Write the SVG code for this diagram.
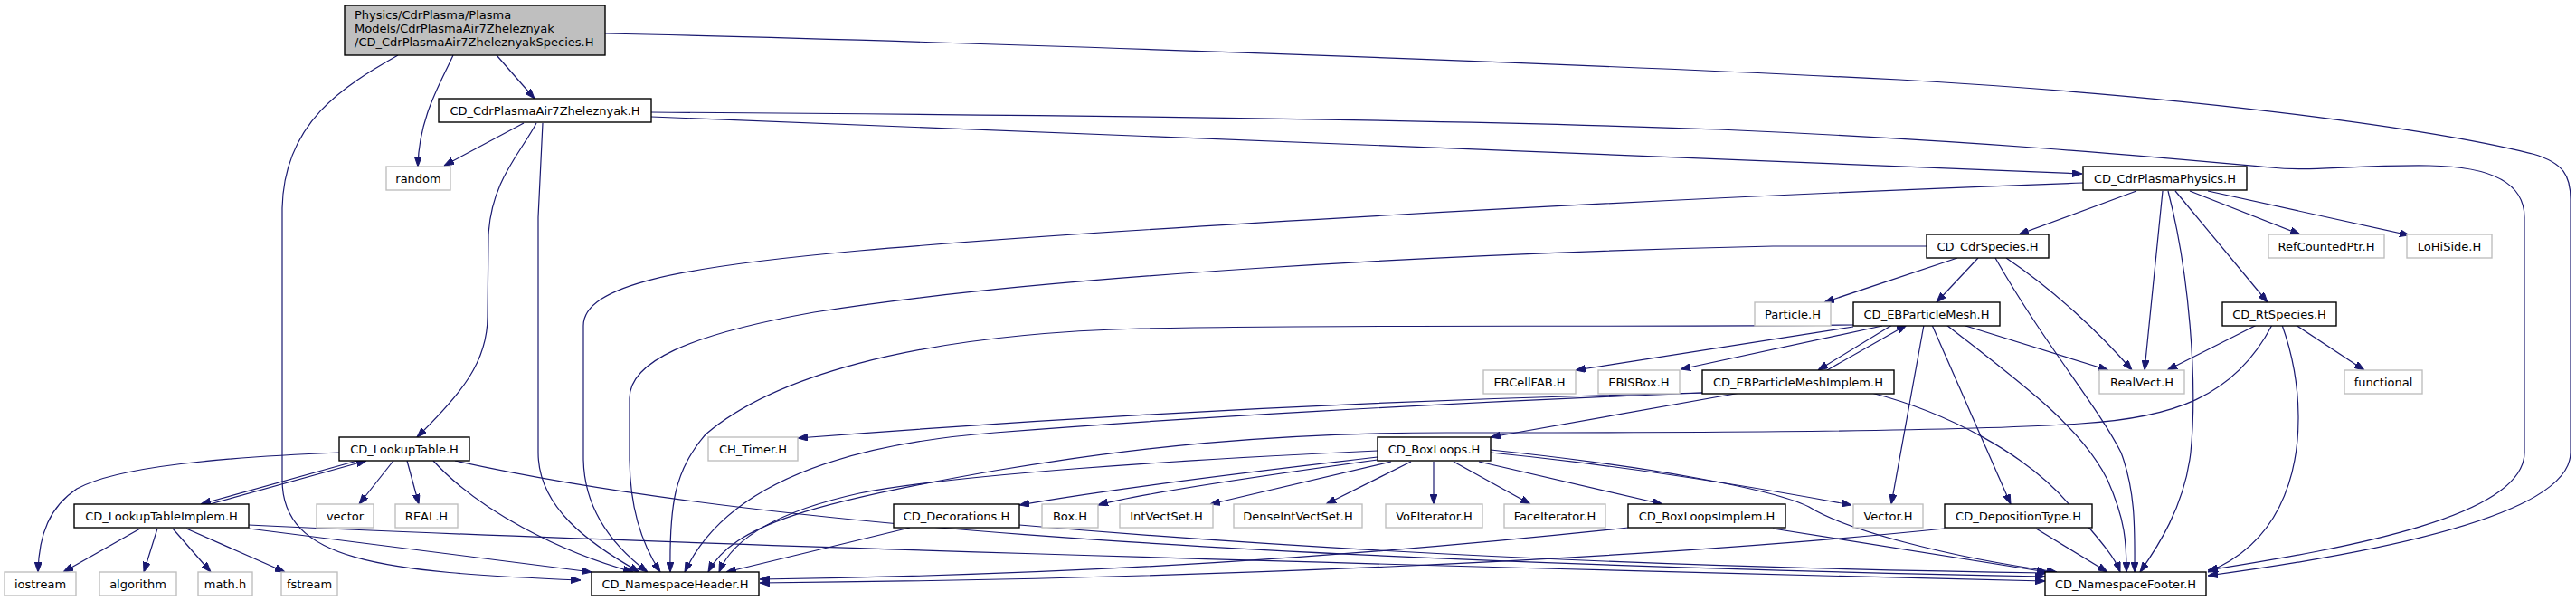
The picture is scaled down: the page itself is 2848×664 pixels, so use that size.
<svg xmlns="http://www.w3.org/2000/svg" width="2848" height="664" viewBox="0 0 2848 664">
<style>
.n rect{fill:#fff;stroke:#000;stroke-width:1.4}
.x rect{fill:#fff;stroke:#bfbfbf;stroke-width:1.4}
.m rect{fill:#bfbfbf;stroke:#000;stroke-width:1.4}
text{font-family:"DejaVu Sans",Verdana,sans-serif;font-size:13px;fill:#000;text-anchor:middle}
.m text{text-anchor:start}
#edges path{fill:none;stroke:#191970;stroke-width:1.2;marker-end:url(#ah)}
</style>
<defs>
<marker id="ah" viewBox="0 0 11 8" refX="11" refY="4" markerWidth="11" markerHeight="8" markerUnits="userSpaceOnUse" orient="auto"><path d="M0,0 L11,4 L0,8 z" fill="#191970" stroke="#191970" stroke-width="1"/></marker>
</defs>
<rect width="2848" height="664" fill="#fff"/>
<g id="edges">
<path d="M549,61 L591,109"/>
<path d="M501,61 C487,92 463,130 462,184"/>
<path d="M440,61 C380,95 314,135 312,230 L312,530 C312,620 420,632 642,641"/>
<path d="M669,37 C1000,44 1700,68 2100,88 C2450,108 2700,145 2800,170 C2835,180 2842,195 2842,220 L2842,500 C2842,570 2620,612 2441,636"/>
<path d="M579,136 L491,183"/>
<path d="M593,136 C575,170 543,200 540,260 L539,350 C539,400 510,435 461,483"/>
<path d="M600,136 L595,240 L595,500 C595,560 650,600 707,632"/>
<path d="M720,129 C1000,139 1900,176 2302,192"/>
<path d="M720,124 C1200,127 1600,132 1900,143 C2200,156 2400,175 2510,185 C2560,190 2600,182 2686,183 C2760,184 2791,205 2791,240 L2791,500 C2791,570 2600,605 2441,630"/>
<path d="M375,500 C250,505 130,515 85,540 C55,560 43,590 42,632"/>
<path d="M395,509 L222,557"/>
<path d="M232,557 L405,509"/>
<path d="M435,509 L397,557"/>
<path d="M450,509 L463,557"/>
<path d="M479,509 C530,565 620,610 700,632"/>
<path d="M503,509 C800,575 1300,618 2261,637"/>
<path d="M155,584 L70,632"/>
<path d="M174,584 L159,632"/>
<path d="M191,584 L233,632"/>
<path d="M206,584 L315,632"/>
<path d="M275,584 L654,632"/>
<path d="M275,580 C700,600 1500,624 2261,642"/>
<path d="M2362,211 L2232,259"/>
<path d="M2391,211 L2371,409"/>
<path d="M2397,211 C2420,300 2430,420 2422,500 C2415,560 2385,605 2366,632"/>
<path d="M2405,211 L2507,334"/>
<path d="M2421,211 L2543,259"/>
<path d="M2441,211 L2664,260"/>
<path d="M2303,202 C1800,220 1200,255 950,277 C750,295 645,315 645,360 L645,505 C645,565 680,605 716,632"/>
<path d="M2164,285 L2017,334"/>
<path d="M2187,285 L2141,334"/>
<path d="M2206,285 C2260,380 2320,450 2345,500 C2362,545 2360,590 2360,632"/>
<path d="M2218,285 C2270,320 2322,368 2357,409"/>
<path d="M2130,272 L1960,272 C1600,280 1150,305 900,345 C760,370 696,400 696,440 L696,505 C696,565 712,605 730,632"/>
<path d="M2049,361 L1742,409"/>
<path d="M2081,360 L1858,408"/>
<path d="M2050,359 C1800,362 1500,358 1260,363 C1000,370 850,420 780,480 C745,520 740,560 741,632"/>
<path d="M2092,359 L2010,409"/>
<path d="M2020,409 L2108,359"/>
<path d="M2170,359 L2331,409"/>
<path d="M2127,359 L2091,557"/>
<path d="M2136,359 L2223,557"/>
<path d="M2152,359 C2230,420 2300,470 2330,530 C2350,575 2351,600 2351,632"/>
<path d="M1882,434 C1600,440 1260,455 882,484"/>
<path d="M1882,434 C1600,445 1300,462 1100,478 C920,492 800,540 757,632"/>
<path d="M1924,434 L1648,483"/>
<path d="M2069,434 C2150,455 2240,500 2290,560 C2320,595 2338,615 2344,632"/>
<path d="M1523,505 C1350,525 1200,545 1127,558"/>
<path d="M1523,508 C1400,525 1260,545 1214,558"/>
<path d="M1538,510 L1338,557"/>
<path d="M1560,510 L1466,557"/>
<path d="M1585,510 L1585,557"/>
<path d="M1607,510 L1692,557"/>
<path d="M1635,510 L1838,557"/>
<path d="M1648,500 C1800,515 1950,540 2047,558"/>
<path d="M1648,497 C1820,515 1960,540 2000,560 C2040,585 2150,615 2274,632"/>
<path d="M1523,498 C1300,508 1050,525 950,545 C860,565 810,595 795,632"/>
<path d="M2495,359 L2396,409"/>
<path d="M2538,359 L2614,409"/>
<path d="M2523,359 C2545,420 2550,500 2520,560 C2500,600 2470,620 2441,632"/>
<path d="M2512,359 C2470,440 2400,462 2300,468 C2150,478 1800,478 1600,478 C1400,478 1250,495 1100,520 C900,555 810,580 783,632"/>
<path d="M1006,583 L803,632"/>
<path d="M1127,580 C1500,612 1900,628 2263,633"/>
<path d="M1800,583 C1500,615 1200,635 840,640"/>
<path d="M1960,584 L2263,632"/>
<path d="M2251,584 L2330,632"/>
<path d="M2150,584 C1800,620 1300,640 840,644"/>
</g>
<g id="n_main" class="m"><rect x="381" y="6" width="288" height="55"/><text x="392" y="21">Physics/CdrPlasma/Plasma</text><text x="392" y="36">Models/CdrPlasmaAir7Zheleznyak</text><text x="392" y="51">/CD_CdrPlasmaAir7ZheleznyakSpecies.H</text></g>
<g id="n_air7" class="n"><rect x="485" y="109" width="235" height="26"/><text x="602.5" y="126.5">CD_CdrPlasmaAir7Zheleznyak.H</text></g>
<g id="n_random" class="x"><rect x="427" y="184" width="71" height="26"/><text x="462.5" y="201.5">random</text></g>
<g id="n_pp" class="n"><rect x="2303" y="184" width="181" height="26"/><text x="2393.5" y="201.5">CD_CdrPlasmaPhysics.H</text></g>
<g id="n_cs" class="n"><rect x="2130" y="259" width="135" height="26"/><text x="2197.5" y="276.5">CD_CdrSpecies.H</text></g>
<g id="n_rcp" class="x"><rect x="2508" y="259" width="128" height="26"/><text x="2572" y="276.5">RefCountedPtr.H</text></g>
<g id="n_lohi" class="x"><rect x="2661" y="259" width="94" height="26"/><text x="2708" y="276.5">LoHiSide.H</text></g>
<g id="n_particle" class="x"><rect x="1940" y="334" width="84" height="26"/><text x="1982" y="351.5">Particle.H</text></g>
<g id="n_epm" class="n"><rect x="2049" y="334" width="162" height="26"/><text x="2130" y="351.5">CD_EBParticleMesh.H</text></g>
<g id="n_rt" class="n"><rect x="2457" y="334" width="126" height="26"/><text x="2520" y="351.5">CD_RtSpecies.H</text></g>
<g id="n_ebcellfab" class="x"><rect x="1640" y="409" width="102" height="26"/><text x="1691" y="426.5">EBCellFAB.H</text></g>
<g id="n_ebisbox" class="x"><rect x="1767" y="409" width="90" height="26"/><text x="1812" y="426.5">EBISBox.H</text></g>
<g id="n_epmi" class="n"><rect x="1882" y="409" width="212" height="26"/><text x="1988" y="426.5">CD_EBParticleMeshImplem.H</text></g>
<g id="n_realvect" class="x"><rect x="2321" y="409" width="94" height="26"/><text x="2368" y="426.5">RealVect.H</text></g>
<g id="n_functional" class="x"><rect x="2592" y="409" width="86" height="26"/><text x="2635" y="426.5">functional</text></g>
<g id="n_lt" class="n"><rect x="375" y="483" width="144" height="26"/><text x="447" y="500.5">CD_LookupTable.H</text></g>
<g id="n_timer" class="x"><rect x="783" y="483" width="99" height="26"/><text x="832.5" y="500.5">CH_Timer.H</text></g>
<g id="n_bl" class="n"><rect x="1523" y="483" width="125" height="26"/><text x="1585.5" y="500.5">CD_BoxLoops.H</text></g>
<g id="n_lti" class="n"><rect x="82" y="557" width="193" height="26"/><text x="178.5" y="574.5">CD_LookupTableImplem.H</text></g>
<g id="n_vector" class="x"><rect x="350" y="557" width="63" height="26"/><text x="381.5" y="574.5">vector</text></g>
<g id="n_real" class="x"><rect x="437" y="557" width="69" height="26"/><text x="471.5" y="574.5">REAL.H</text></g>
<g id="n_dec" class="n"><rect x="988" y="557" width="139" height="26"/><text x="1057.5" y="574.5">CD_Decorations.H</text></g>
<g id="n_box" class="x"><rect x="1152" y="557" width="62" height="26"/><text x="1183" y="574.5">Box.H</text></g>
<g id="n_ivs" class="x"><rect x="1238" y="557" width="103" height="26"/><text x="1289.5" y="574.5">IntVectSet.H</text></g>
<g id="n_divs" class="x"><rect x="1364" y="557" width="142" height="26"/><text x="1435" y="574.5">DenseIntVectSet.H</text></g>
<g id="n_vof" class="x"><rect x="1532" y="557" width="107" height="26"/><text x="1585.5" y="574.5">VoFIterator.H</text></g>
<g id="n_face" class="x"><rect x="1663" y="557" width="112" height="26"/><text x="1719" y="574.5">FaceIterator.H</text></g>
<g id="n_bli" class="n"><rect x="1800" y="557" width="174" height="26"/><text x="1887" y="574.5">CD_BoxLoopsImplem.H</text></g>
<g id="n_vectorh" class="x"><rect x="2049" y="557" width="77" height="26"/><text x="2087.5" y="574.5">Vector.H</text></g>
<g id="n_dt" class="n"><rect x="2150" y="557" width="163" height="26"/><text x="2231.5" y="574.5">CD_DepositionType.H</text></g>
<g id="n_iostream" class="x"><rect x="5" y="632" width="79" height="26"/><text x="44.5" y="649.5">iostream</text></g>
<g id="n_algorithm" class="x"><rect x="110" y="632" width="85" height="26"/><text x="152.5" y="649.5">algorithm</text></g>
<g id="n_math" class="x"><rect x="219" y="632" width="60" height="26"/><text x="249" y="649.5">math.h</text></g>
<g id="n_fstream" class="x"><rect x="311" y="632" width="62" height="26"/><text x="342" y="649.5">fstream</text></g>
<g id="n_nh" class="n"><rect x="654" y="632" width="185" height="26"/><text x="746.5" y="649.5">CD_NamespaceHeader.H</text></g>
<g id="n_nf" class="n"><rect x="2261" y="632" width="178" height="26"/><text x="2350" y="649.5">CD_NamespaceFooter.H</text></g>
</svg>
